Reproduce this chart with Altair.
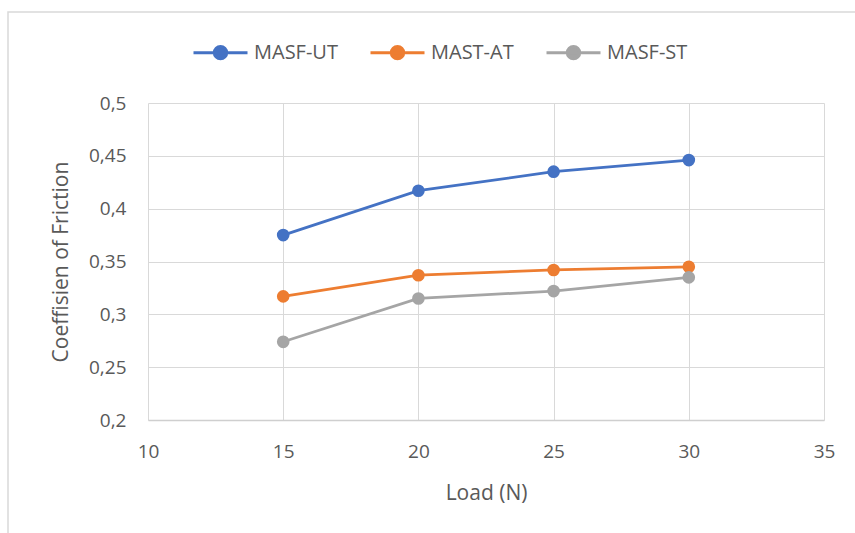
import altair as alt
import pandas as pd

# Friction measurements for three surface treatments
loads = [15, 20, 25, 30]
series_names = ["MASF-UT", "MAST-AT", "MASF-ST"]
masf_ut = [0.375, 0.417, 0.435, 0.446]
mast_at = [0.317, 0.337, 0.342, 0.345]
masf_st = [0.274, 0.315, 0.322, 0.335]
series_colors = ["#4472C4", "#ED7D31", "#A5A5A5"]

x_ticks = [10, 15, 20, 25, 30, 35]
y_ticks = [0.2, 0.25, 0.3, 0.35, 0.4, 0.45, 0.5]

rows = []
for name, vals in zip(series_names, [masf_ut, mast_at, masf_st]):
    for load, v in zip(loads, vals):
        rows.append({"Load": load, "Series": name, "COF": v})
df = pd.DataFrame(rows)

FONT = "Open Sans"
TEXT = "#595959"
GRID = "#d9d9d9"

W, H = 676, 317
LEFT, TOP = 148, 103

# line-with-dot legend glyph in normalised [-1, 1] symbol space
legend_glyph = ("M-1,0H1M0.23,0A0.23,0.23,0,1,1,-0.23,0"
                "A0.23,0.23,0,1,1,0.23,0Z")

color = alt.Color(
    "Series:N",
    scale=alt.Scale(domain=series_names, range=series_colors),
    legend=alt.Legend(
        title=None,
        orient="none",
        direction="horizontal",
        legendX=44,
        legendY=-79,
        symbolType=legend_glyph,
        symbolSize=2916,
        symbolStrokeWidth=3,
        labelFont=FONT,
        labelFontSize=20,
        labelColor=TEXT,
        labelOffset=5,
        columnPadding=26,
    ),
)

x_enc = alt.X(
    "Load:Q",
    scale=alt.Scale(domain=[10, 35], nice=False, zero=False),
    axis=alt.Axis(
        values=x_ticks,
        title="Load (N)",
        titleFont=FONT,
        titleFontSize=21,
        titleFontWeight="normal",
        titleColor=TEXT,
        titleX=W / 2,
        titleY=73,
        titleBaseline="middle",
        labelFont=FONT,
        labelFontSize=19,
        labelColor=TEXT,
        labelPadding=22,
        labelFlush=False,
        ticks=False,
        grid=True,
        gridColor=GRID,
        domainColor="#cfcfcf",
        domainWidth=1.5,
    ),
)

y_enc = alt.Y(
    "COF:Q",
    scale=alt.Scale(domain=[0.2, 0.5], nice=False, zero=False),
    axis=alt.Axis(
        values=y_ticks,
        title="Coeffisien of Friction",
        titleFont=FONT,
        titleFontSize=21,
        titleFontWeight="normal",
        titleColor=TEXT,
        titleAngle=-90,
        titleX=-87,
        titleY=H / 2,
        titleAlign="center",
        titleBaseline="middle",
        labelFont=FONT,
        labelFontSize=19,
        labelColor=TEXT,
        labelPadding=22,
        labelFlush=False,
        labelExpr="replace(format(datum.value, '.2~f'), '.', ',')",
        ticks=False,
        domain=False,
        grid=True,
        gridColor=GRID,
    ),
)

base = alt.Chart(df)

lines = base.mark_line(strokeWidth=2.75).encode(x=x_enc, y=y_enc, color=color)
points = base.mark_point(filled=True, size=160, opacity=1).encode(
    x="Load:Q", y="COF:Q", color=alt.Color("Series:N", legend=None)
)

# outer chart-area frame
frame = alt.Chart(pd.DataFrame({"k": [0]})).mark_rect(
    fillOpacity=0, stroke=GRID, strokeWidth=1.5
).encode(
    x=alt.value(8 - LEFT),
    x2=alt.value(870 - LEFT),
    y=alt.value(12 - TOP),
    y2=alt.value(550 - TOP),
)

chart = (
    alt.layer(frame, lines, points)
    .properties(
        width=W,
        height=H,
        autosize=alt.AutoSizeParams(type="none"),
        padding={"left": LEFT, "top": TOP, "right": 855 - LEFT - W, "bottom": 533 - TOP - H},
        background="white",
    )
    .configure_view(stroke=None)
)

chart.save("out.html", embed_options={"renderer": "svg", "actions": False})
